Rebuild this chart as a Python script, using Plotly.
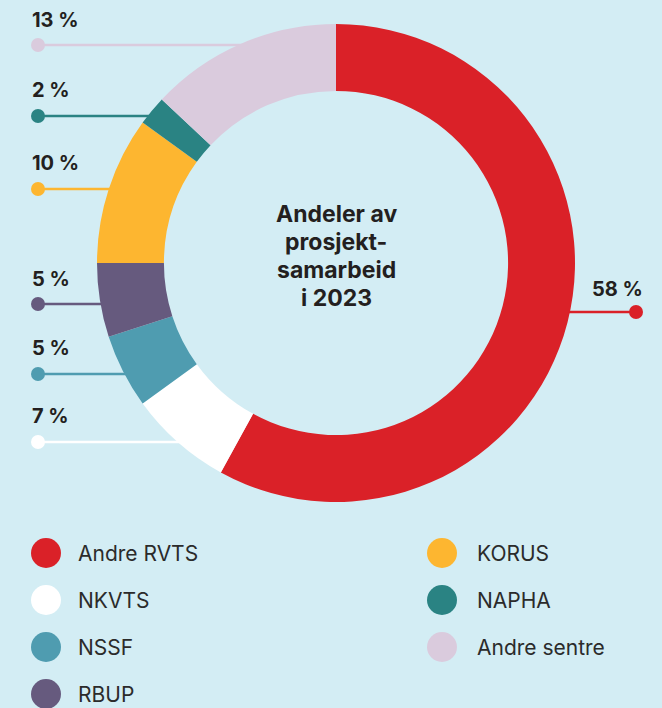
import math
import plotly.graph_objects as go

W, H = 662, 708

# Data
categories = ["Andre RVTS", "NKVTS", "NSSF", "RBUP", "KORUS", "NAPHA", "Andre sentre"]
values = [58, 7, 5, 5, 10, 2, 13]
colors = ["#da2128", "#ffffff", "#4f9cb0", "#665a7e", "#fdb630", "#2a8383", "#dacbdd"]
pct_labels = [f"{v} %" for v in values]
center_lines = ["Andeler av", "prosjekt-", "samarbeid", "i 2023"]

BG = "#d3edf4"
TXT = "#231f20"

# Geometry (pixels)
CX, CY, R = 336, 263, 239
HOLE = 0.72

def px(x):
    return x / W

def py(y):
    return 1 - y / H

fig = go.Figure()
fig.add_trace(go.Pie(
    labels=categories, values=values, sort=False, direction="clockwise",
    rotation=0, hole=HOLE,
    marker=dict(colors=colors, line=dict(width=0)),
    textinfo="none", hoverinfo="label+percent", showlegend=False,
    domain=dict(x=[px(CX - R), px(CX + R)], y=[py(CY + R), py(CY - R)]),
))

# label placement (pixels): dot x, dot y, text x, text y, side
label_pos = {
    "Andre RVTS": (636, 312, 617, 289, "right"),
    "NKVTS": (38, 442, 30, 416, "left"),
    "NSSF": (38, 374, 30, 348, "left"),
    "RBUP": (38, 304, 30, 279, "left"),
    "KORUS": (38, 189, 30, 163, "left"),
    "NAPHA": (38, 116, 30, 90, "left"),
    "Andre sentre": (38, 45, 30, 20, "left"),
}

shapes = []
annotations = []
for cat, col, lab in zip(categories, colors, pct_labels):
    dx, dy, tx, ty, side = label_pos[cat]
    half = math.sqrt(max(R**2 - (dy - CY) ** 2, 0))
    edge_x = CX - half + 6 if side == "left" else CX + half - 6
    shapes.append(dict(type="line", xref="paper", yref="paper", layer="below",
                       x0=px(dx), y0=py(dy), x1=px(edge_x), y1=py(dy),
                       line=dict(color=col, width=2.5)))
    rr = 7
    shapes.append(dict(type="circle", xref="paper", yref="paper", layer="below",
                       x0=px(dx - rr), x1=px(dx + rr), y0=py(dy + rr), y1=py(dy - rr),
                       fillcolor=col, line=dict(width=0)))
    annotations.append(dict(x=px(tx), y=py(ty), xref="paper", yref="paper",
                            text=f"<b>{lab}</b>", showarrow=False,
                            xanchor="left" if side == "left" else "center",
                            yanchor="middle",
                            font=dict(family="Inter", size=20, color=TXT)))

# center title, one annotation per line
for i, line in enumerate(center_lines):
    annotations.append(dict(x=px(CX), y=py(214 + 28 * i), xref="paper", yref="paper",
                            text=f"<b>{line}</b>", showarrow=False,
                            xanchor="center", yanchor="middle",
                            font=dict(family="Inter", size=23, color=TXT)))

# custom legend
leg_cols = [(46, 76), (442, 475)]
leg_rows = [553, 600, 647, 694]
for i, (cat, col) in enumerate(zip(categories, colors)):
    c = 0 if i < 4 else 1
    r = i if i < 4 else i - 4
    cx, tx = leg_cols[c]
    cy = leg_rows[r]
    rr = 15
    shapes.append(dict(type="circle", xref="paper", yref="paper",
                       x0=px(cx - rr), x1=px(cx + rr), y0=py(cy + rr), y1=py(cy - rr),
                       fillcolor=col, line=dict(width=0)))
    annotations.append(dict(x=px(tx), y=py(cy), xref="paper", yref="paper",
                            text=cat, showarrow=False, xanchor="left", yanchor="middle",
                            font=dict(family="Inter", size=21, color="#2b2b2b")))

fig.update_layout(
    width=W, height=H, margin=dict(l=0, r=0, t=0, b=0),
    paper_bgcolor=BG, plot_bgcolor=BG,
    shapes=shapes, annotations=annotations,
)

fig.write_html(
    "out.html",
    config={"displayModeBar": False},
    post_script=f"document.body.style.margin='0';document.body.style.background='{BG}';"
                "document.body.style.overflow='hidden';",
)
